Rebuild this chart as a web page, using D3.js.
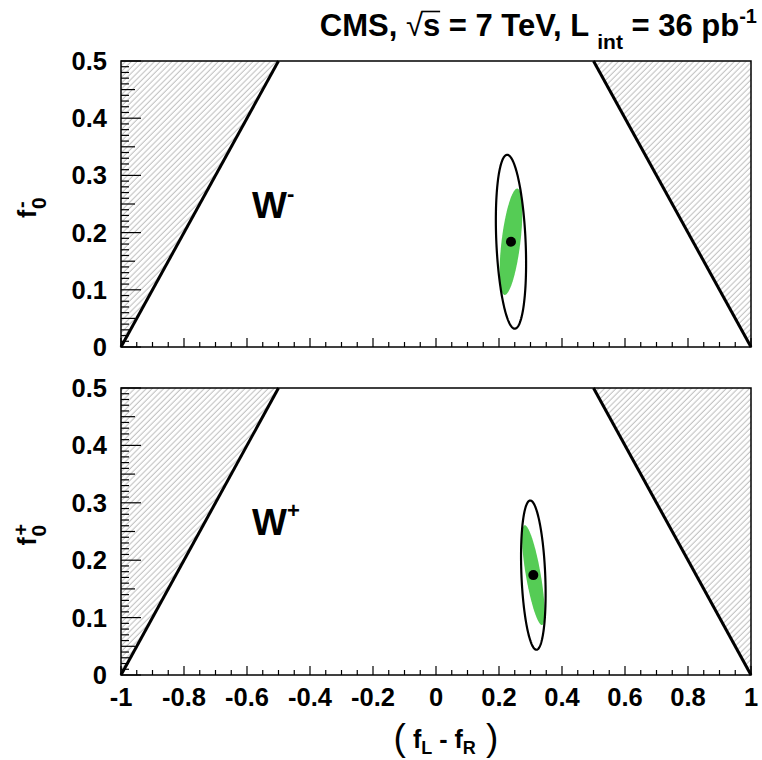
<!DOCTYPE html>
<html>
<head>
<meta charset="utf-8">
<script src="https://cdn.jsdelivr.net/npm/d3@7/dist/d3.min.js"></script>
<style>
  body { margin: 0; background: #fff; }
  svg text { font-family: "Liberation Sans", Arial, Helvetica, sans-serif; font-weight: bold; fill: #000; }
</style>
</head>
<body>
<svg id="chart" width="762" height="760"></svg>
<script>
// ---- data ----
const xTickValues = [-1, -0.8, -0.6, -0.4, -0.2, 0, 0.2, 0.4, 0.6, 0.8, 1];
const xTickLabels = ["-1", "-0.8", "-0.6", "-0.4", "-0.2", "0", "0.2", "0.4", "0.6", "0.8", "1"];
const yTickValues = [0, 0.1, 0.2, 0.3, 0.4, 0.5];
const yTickLabels = ["0", "0.1", "0.2", "0.3", "0.4", "0.5"];

const panelNames = ["W-", "W+"];
const chargeSigns = ["-", "+"];

// physical boundary f0 <= 1 - |fL - fR|
const boundaryLeft = [[-1, 0], [-0.5, 0.5]];
const boundaryRight = [[0.5, 0.5], [1, 0]];

// measured central values (fL - fR, f0) per panel
const centralX = [0.238, 0.309];
const centralY = [0.184, 0.174];

// outer contour: half extents and correlation
const outerSX = [0.048, 0.039];
const outerSY = [0.152, 0.130];
const outerRho = [-0.25, -0.25];

// inner (filled) contour
const innerSX = [0.036, 0.036];
const innerSY = [0.093, 0.087];
const innerRho = [0.55, -0.75];

// ---- layout ----
const svg = d3.select("#chart");
const xLeft = 121, xRight = 751;
const panelTops = [61, 388];
const panelBottoms = [347, 675];

const x = d3.scaleLinear().domain([-1, 1]).range([xLeft, xRight]);

// hatch pattern for the forbidden regions
const defs = svg.append("defs");
const pat = defs.append("pattern")
  .attr("id", "hatch")
  .attr("patternUnits", "userSpaceOnUse")
  .attr("width", 4.1).attr("height", 20)
  .attr("patternTransform", "rotate(45)");
pat.append("line")
  .attr("x1", 1).attr("y1", 0).attr("x2", 1).attr("y2", 20)
  .attr("stroke", "#a4a4a4").attr("stroke-width", 0.8);

function ellipsePoints(cx, cy, sx, sy, rho) {
  const n = 180;
  const s = Math.sqrt(1 - rho * rho);
  return d3.range(n + 1).map(i => {
    const t = (i / n) * 2 * Math.PI;
    return [cx + sx * Math.cos(t), cy + sy * (rho * Math.cos(t) + s * Math.sin(t))];
  });
}

panelNames.forEach((name, p) => {
  const y = d3.scaleLinear().domain([0, 0.5]).range([panelBottoms[p], panelTops[p]]);
  const g = svg.append("g");
  const line = d3.line().x(d => x(d[0])).y(d => y(d[1]));

  // hatched regions outside the physical boundary
  const leftPoly = [boundaryLeft[0], [-1, 0.5], boundaryLeft[1]];
  const rightPoly = [boundaryRight[0], [1, 0.5], boundaryRight[1]];
  g.append("path").attr("d", line(leftPoly) + "Z").attr("fill", "url(#hatch)");
  g.append("path").attr("d", line(rightPoly) + "Z").attr("fill", "url(#hatch)");

  // y ticks: every 0.01, longer at 0.05 and 0.1
  d3.range(0, 51).forEach(i => {
    const len = i % 10 === 0 ? 20 : (i % 5 === 0 ? 14 : 8);
    g.append("line")
      .attr("x1", xLeft).attr("x2", xLeft + len)
      .attr("y1", y(i / 100)).attr("y2", y(i / 100))
      .attr("stroke", "#000").attr("stroke-width", 1.2);
  });
  // x ticks: every 0.05, longer at 0.2
  d3.range(0, 41).forEach(i => {
    const v = -1 + i * 0.05;
    const len = i % 4 === 0 ? 9 : 5;
    g.append("line")
      .attr("x1", x(v)).attr("x2", x(v))
      .attr("y1", panelBottoms[p]).attr("y2", panelBottoms[p] - len)
      .attr("stroke", "#000").attr("stroke-width", 1.2);
  });

  // boundary lines
  g.append("path").attr("d", line(boundaryLeft)).attr("stroke", "#000").attr("stroke-width", 3).attr("fill", "none");
  g.append("path").attr("d", line(boundaryRight)).attr("stroke", "#000").attr("stroke-width", 3).attr("fill", "none");

  // contours
  g.append("path")
    .attr("d", line(ellipsePoints(centralX[p], centralY[p], innerSX[p], innerSY[p], innerRho[p])) + "Z")
    .attr("fill", "#55cc55").attr("stroke", "none");
  g.append("path")
    .attr("d", line(ellipsePoints(centralX[p], centralY[p], outerSX[p], outerSY[p], outerRho[p])) + "Z")
    .attr("fill", "none").attr("stroke", "#000").attr("stroke-width", 2.2);
  g.append("circle")
    .attr("cx", x(centralX[p])).attr("cy", y(centralY[p])).attr("r", 5)
    .attr("fill", "#000");

  // frame
  g.append("rect")
    .attr("x", xLeft).attr("y", panelTops[p])
    .attr("width", xRight - xLeft).attr("height", panelBottoms[p] - panelTops[p])
    .attr("fill", "none").attr("stroke", "#000").attr("stroke-width", 1.5);

  // y tick labels
  g.selectAll("text.ylab").data(yTickValues).enter().append("text")
    .attr("class", "ylab")
    .attr("x", 107).attr("y", d => y(d) + 9)
    .attr("text-anchor", "end").attr("font-size", 25.5)
    .text((d, i) => yTickLabels[i]);

  // panel label W-/W+
  const lab = g.append("text").attr("x", 252).attr("y", y(0.5) + (p === 0 ? 157 : 147)).attr("font-size", 37);
  lab.append("tspan").text("W");
  lab.append("tspan").attr("dy", -17).attr("font-size", 22).text(chargeSigns[p]);

  // y-axis title f0-/f0+
  const yt = g.append("g").attr("transform", `translate(36, ${(panelTops[p] + panelBottoms[p]) / 2 + 14}) rotate(-90)`);
  yt.append("text").attr("x", 0).attr("y", 0).attr("font-size", 25).text("f");
  yt.append("text").attr("x", 9).attr("y", 10).attr("font-size", 21).text("0");
  yt.append("text").attr("x", 10).attr("y", -8).attr("font-size", 20).text(chargeSigns[p]);
});

// x tick labels (bottom panel)
svg.selectAll("text.xlab").data(xTickValues).enter().append("text")
  .attr("class", "xlab")
  .attr("x", d => x(d)).attr("y", 706)
  .attr("text-anchor", "middle").attr("font-size", 25.5)
  .text((d, i) => xTickLabels[i]);

// x-axis title (fL - fR)
const xt = svg.append("text").attr("x", 446).attr("y", 748).attr("text-anchor", "middle").attr("font-size", 25);
xt.append("tspan").attr("font-weight", "normal").attr("font-size", 37).attr("dy", 2).text("(");
xt.append("tspan").attr("dy", -2).text(" f");
xt.append("tspan").attr("font-size", 18).attr("dy", 6).text("L");
xt.append("tspan").attr("dy", -6).text(" - f");
xt.append("tspan").attr("font-size", 18).attr("dy", 6).text("R");
xt.append("tspan").attr("font-weight", "normal").attr("font-size", 37).attr("dy", -4).text(" )");

// title
const title = svg.append("text").attr("x", 757).attr("y", 36).attr("text-anchor", "end").attr("font-size", 31);
title.append("tspan").text("CMS, ");
title.append("tspan").attr("font-weight", "normal").text("\u221A");
title.append("tspan").text("s");
title.append("tspan").text(" = 7 TeV, L ");
title.append("tspan").attr("font-size", 21).attr("dy", 13).text("int");
title.append("tspan").attr("dy", -13).text(" = 36 pb");
title.append("tspan").attr("font-size", 20).attr("dy", -13).text("-1");

// bar over the radicand
const tNode = title.node();
const full = tNode.textContent;
const iRad = full.indexOf("\u221A");
const eRad = tNode.getExtentOfChar(iRad);
const eS = tNode.getExtentOfChar(iRad + 1);
svg.append("line")
  .attr("x1", eRad.x + eRad.width - 1.5).attr("x2", eS.x + eS.width)
  .attr("y1", eRad.y + 3.5).attr("y2", eRad.y + 3.5)
  .attr("stroke", "#000").attr("stroke-width", 1.6);
</script>
</body>
</html>
